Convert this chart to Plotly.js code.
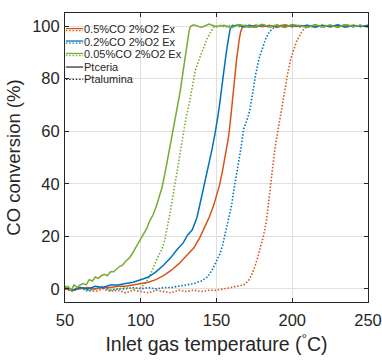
<!DOCTYPE html>
<html>
<head>
<meta charset="utf-8">
<script src="https://cdn.plot.ly/plotly-3.0.1.min.js"></script>
<style>html,body{margin:0;padding:0;background:#fff;}#chart{width:382px;height:361px;}</style>
</head>
<body>
<div id="chart"></div>
<script>
// ---------- data ----------
const seriesNames = ['0.5%CO 2%O2 Ex', '0.2%CO 2%O2 Ex', '0.05%CO 2%O2 Ex'];
const catalystNames = ['Ptceria', 'Ptalumina'];
const seriesColors = ['#D95319', '#0072BD', '#77AC30'];

// Ptceria (solid), 0.5% CO
const tCe05 = [50,55,60,65,70,75,80,85,90,95,100,105,110,115,120,125,130,135,139,142,145,148,150,152,154,156,158,159,160,161,162,163,164,165,166,167,168,172,176,180,185,190,195,200,205,210,215,220,225,230,235,240,245,250];
const cCe05 = [0,-0.5,0,0.5,0,0.5,0.5,1,1,1.5,2,2.5,3.5,5,7,9.5,12.5,15.5,19.5,23,27,31.5,35.5,39.5,45,51,58,63,68,74,80,86,91,95,98,99.5,100,99.6,100.4,99.8,100.3,99.5,100.5,99.9,100.2,99.6,100.4,99.8,100.3,99.7,100.5,99.9,100.2,99.8];
// Ptceria (solid), 0.2% CO
const tCe02 = [50,55,60,65,70,75,80,85,90,95,100,105,110,115,120,124,128,131,134,137,139,141,143,145,147,149,150,151,152,153,154,155,156,157,158,159,160,164,168,172,176,180,185,190,195,200,205,210,215,220,225,230,235,240,245,250];
const cCe02 = [0.5,-0.5,0.5,0,1,0.5,1.5,1.5,2,2.5,3.5,4.5,6.5,9,12,15,17.5,20.5,22.5,27,32,37,42,47,53,59,62,66,70,75,80,84,88,92,96,99,100,100.4,99.7,100.3,99.6,100.5,99.8,100.2,99.7,100.4,99.9,100.3,99.6,100.2,99.8,100.5,99.7,100.2,99.9,100.3];
// Ptceria (solid), 0.05% CO
const tCe005 = [50,52,54,56,58,60,62,64,66,68,70,72,74,76,78,80,82,84,86,88,90,92,94,96,98,100,102,104,106,108,110,112,114,116,118,120,122,124,126,128,130,131,132,133,135,140,145,150,155,160,165,170,175,180,185,190,195,200,205,210,215,220,225,230,235,240,245,250];
const cCe005 = [0,1,-0.5,1.5,0.5,1.5,2,1.5,3.5,3,4.5,4,5,5.5,5,6.5,6.5,7.5,8.5,9,10.5,11.5,13,15,17,19.5,21,23,26,28,31,35,38.5,44,50,57,63,68,75,83,91,95,98.5,100,100.5,99.5,100.8,99.8,100.3,99.4,100.6,100,99.6,100.7,99.8,100.4,99.5,100.6,100,99.6,100.5,99.8,100.4,99.5,100.6,99.9,100.3,99.7];

// Ptalumina (dotted), 0.5% CO
const tAl05 = [50,55,60,65,70,75,80,85,90,95,100,105,110,115,120,125,130,135,140,145,150,155,160,164,168,171,173,175,177,179,181,183,185,187,189,191,193,195,197,199,201,203,205,207,209,211,215,220,225,230,235,240,245,250];
const cAl05 = [0,-1,0.5,-0.5,-1,0,-1,-0.5,-1.5,-0.5,-1,-1.5,-0.5,-1,-1.5,-0.5,-1,-0.5,-1,-0.5,-0.5,0,0.5,1,1.5,3,5,8,11.5,16,20,26,37,46,55,62,69.5,76,82,87.5,91.5,94.5,96.5,98.5,99.5,100,99.6,100.4,99.8,100.3,99.6,100.4,99.9,100.2];
// Ptalumina (dotted), 0.2% CO
const tAl02 = [50,55,60,65,70,75,80,85,90,95,100,105,110,115,120,125,130,135,140,144,147,150,152,154,156,158,160,162,164,166,168,170,172,174,176,178,180,182,184,186,188,190,195,200,205,210,215,220,225,230,235,240,245,250];
const cAl02 = [0,-0.5,0.5,-0.5,0,0.5,-0.5,0,0,0.5,0,0.5,0,0.5,0.5,1,1.5,2,3,4.5,7,10.5,13,16.5,21.5,26,32,39.5,46,53,61,64,68,75.5,82,87.5,91.5,94.5,97,98.5,99.5,100,100.4,99.7,100.3,99.8,100.5,99.6,100.2,99.9,100.4,99.7,100.3,99.8];
// Ptalumina (dotted), 0.05% CO
const tAl005 = [50,55,60,65,70,75,80,85,90,95,100,102,104,106,108,110,112,114,116,118,120,122,124,126,128,130,132,134,136,138,140,142,144,146,148,150,152,156,160,165,170,175,180,185,190,195,200,205,210,215,220,225,230,235,240,245,250];
const cAl005 = [1,-0.5,0.5,-1,0,1,-0.5,0,0.5,0,0.5,1.5,3,5,8,10.5,13,15,19,24.5,31,38,45,52,60,65.5,70.5,77,83,86.5,89.5,92.5,95.5,97.5,99.5,100,100.3,99.6,100.4,99.8,100.5,99.7,100.2,99.5,100.6,99.9,100.3,99.6,100.4,99.8,100.5,99.7,100.2,99.6,100.4,99.8,100.2];

const xTicks = [50,100,150,200,250];
const yTicks = [0,20,40,60,80,100];
const legendLabels = ['0.5%CO 2%O2 Ex','0.2%CO 2%O2 Ex','0.05%CO 2%O2 Ex','Ptceria','Ptalumina'];

// ---------- traces ----------
const DOT = '1.5px,1.8px';
const ceria = [[tCe05,cCe05],[tCe02,cCe02],[tCe005,cCe005]];
const alumina = [[tAl05,cAl05],[tAl02,cAl02],[tAl005,cAl005]];
const traces = [];
alumina.forEach((d,i)=>traces.push({x:d[0],y:d[1],type:'scatter',mode:'lines',name:seriesNames[i]+' '+catalystNames[1],
  line:{color:seriesColors[i],width:1.6,dash:DOT},showlegend:false,hoverinfo:'skip'}));
ceria.forEach((d,i)=>traces.push({x:d[0],y:d[1],type:'scatter',mode:'lines',name:seriesNames[i]+' '+catalystNames[0],
  line:{color:seriesColors[i],width:1.5},showlegend:false,hoverinfo:'skip'}));

// ---------- legend drawn as annotations + sample lines ----------
const font = 'Liberation Sans, Arial, Helvetica, sans-serif';
const legY = [0.943,0.900,0.857,0.813,0.770];
const legendColors = [seriesColors[0],seriesColors[1],seriesColors[2],'#262626','#262626'];
const annotations = legendLabels.map((t,i)=>({text:t,xref:'paper',yref:'paper',x:0.059,y:legY[i],xanchor:'left',yanchor:'middle',
  borderpad:0,showarrow:false,font:{family:font,size:11,color:'#262626'}}));
const shapes = [];
for(let i=0;i<3;i++){
  shapes.push({type:'line',xref:'paper',yref:'paper',x0:0.003,x1:0.06,y0:legY[i]+0.003,y1:legY[i]+0.003,line:{color:legendColors[i],width:1.3}});
  shapes.push({type:'line',xref:'paper',yref:'paper',x0:0.003,x1:0.06,y0:legY[i]-0.004,y1:legY[i]-0.004,line:{color:legendColors[i],width:1.3,dash:DOT}});
}
shapes.push({type:'line',xref:'paper',yref:'paper',x0:0.003,x1:0.06,y0:legY[3],y1:legY[3],line:{color:'#262626',width:1.2}});
shapes.push({type:'line',xref:'paper',yref:'paper',x0:0.003,x1:0.06,y0:legY[4],y1:legY[4],line:{color:'#262626',width:1.2,dash:DOT}});

const axisCommon = {ticks:'inside',ticklen:4,tickwidth:1,tickcolor:'#262626',mirror:'allticks',showline:true,linecolor:'#262626',linewidth:1,
  showgrid:true,gridcolor:'#dfdfdf',gridwidth:1,zeroline:false,tickfont:{family:font,size:16.5,color:'#262626'},fixedrange:true};

const layout = {
  width:382,height:361,margin:{l:65,r:14,t:13,b:59},
  paper_bgcolor:'#ffffff',plot_bgcolor:'#ffffff',showlegend:false,
  xaxis:Object.assign({},axisCommon,{range:[50,250],tickvals:xTicks,ticktext:xTicks.map(String),ticklabelstandoff:3,
    title:{text:'Inlet gas temperature (<sup>°</sup>C)',font:{family:font,size:19.5,color:'#262626'},standoff:9}}),
  yaxis:Object.assign({},axisCommon,{range:[-5,105],tickvals:yTicks,ticktext:yTicks.map(String),ticklabelstandoff:1,
    title:{text:'CO conversion (%)',font:{family:font,size:18.5,color:'#262626'},standoff:6}}),
  annotations:annotations,shapes:shapes
};
Plotly.newPlot('chart',traces,layout,{staticPlot:true,displayModeBar:false});
</script>
</body>
</html>
